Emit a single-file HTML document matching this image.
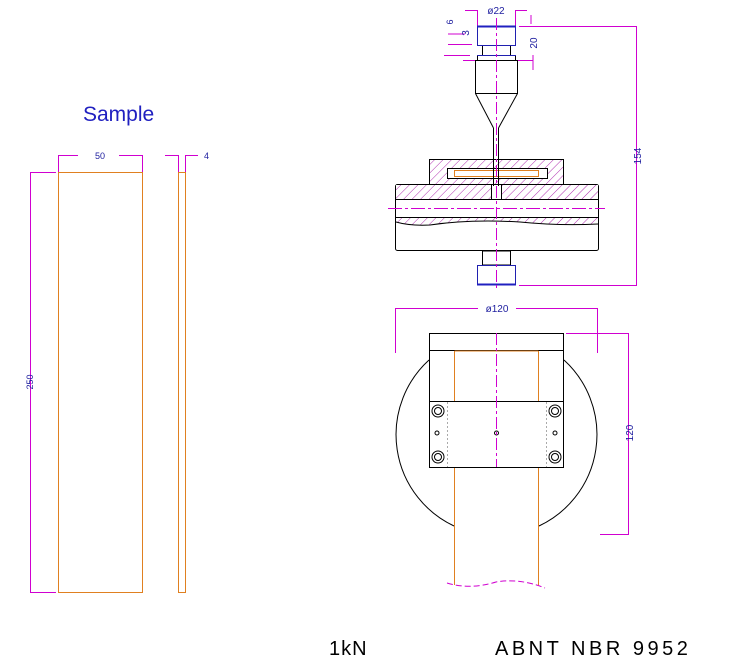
<!DOCTYPE html>
<html><head><style>html,body{margin:0;padding:0;background:#fff}svg{display:block}</style></head><body>
<svg width="741" height="660" viewBox="0 0 741 660" xmlns="http://www.w3.org/2000/svg" font-family="Liberation Sans, sans-serif">
<defs>
<pattern id="h" patternUnits="userSpaceOnUse" width="6" height="6" patternTransform="rotate(45)">
<rect width="6" height="6" fill="#fff"/><line x1="0" y1="0" x2="0" y2="6" stroke="#b030b0" stroke-width="1"/>
</pattern>
</defs>
<!-- Sample -->
<text x="83" y="121" font-size="21" fill="#2020c0">Sample</text>
<g fill="none" stroke="#e08020" stroke-width="1">
<rect x="58.5" y="172.5" width="84" height="420"/>
<rect x="178.5" y="172.5" width="7" height="420"/>
</g>
<g stroke="#d000d0" stroke-width="1" fill="none">
<path d="M58.5 172 V155.5 H78 M119 155.5 H142.5 V172"/>
<path d="M165 155.5 H178.5 V172 M185.5 172 V155.5 H198"/>
<path d="M56 172.5 H30.5 V592.5 H56"/>
</g>
<text x="100" y="159" font-size="9" fill="#2020a0" text-anchor="middle">50</text>
<text x="204" y="159" font-size="9" fill="#2020a0">4</text>
<text transform="translate(33,382) rotate(-90)" font-size="9" fill="#2020a0" text-anchor="middle">250</text>

<!-- Top view -->
<g stroke="#d000d0" stroke-width="1" fill="none">
<path d="M477.5 26 V10.5 H465 M515.5 26 V10.5 H527"/>
<path d="M519 26.5 H636.5 V285.5 H519"/>
<path d="M448 34 H465 M448 44.5 H472 M444 55.5 H470 M463 60.5 H477 M515 60.5 H533"/>
<path d="M531 15 V24 M533 55 V70"/>
</g>
<text x="496" y="14" font-size="10" fill="#2020a0" text-anchor="middle">ø22</text>
<text transform="translate(453,22) rotate(-90)" font-size="9" fill="#2020a0" text-anchor="middle">6</text>
<text transform="translate(469,33) rotate(-90)" font-size="10" fill="#2020a0" text-anchor="middle">3</text>
<text transform="translate(537,43) rotate(-90)" font-size="10" fill="#2020a0" text-anchor="middle">20</text>
<text transform="translate(641,156) rotate(-90)" font-size="10" fill="#2020a0" text-anchor="middle">154</text>

<!-- hatched parts -->
<rect x="429.5" y="159.5" width="134" height="25" fill="url(#h)" stroke="#000"/>
<rect x="447.5" y="168.5" width="100" height="10" fill="#fff" stroke="#000"/>
<rect x="454.5" y="170.5" width="84" height="6" fill="#fff" stroke="#e08020"/>
<rect x="395.5" y="184.5" width="203" height="66" rx="2" fill="#fff" stroke="#000"/>
<rect x="396" y="185" width="202" height="14" fill="url(#h)"/>
<path d="M396 217 H598 V224 Q560 226 520 222 Q470 219 430 225 Q410 226 396 222 Z" fill="url(#h)"/>
<g stroke="#000" fill="none">
<line x1="395" y1="199.5" x2="598" y2="199.5"/>
<line x1="395" y1="217.5" x2="598" y2="217.5"/>
<path d="M396 222 Q410 226 430 225 Q470 219 520 222 Q560 226 598 224"/>
<rect x="491.5" y="184.5" width="10" height="15" fill="#fff"/>
<line x1="493.5" y1="128" x2="493.5" y2="186"/>
<line x1="498.5" y1="128" x2="498.5" y2="186"/>
<rect x="475.5" y="60.5" width="42" height="33" fill="#fff"/>
<path d="M475.5 93.5 L493.5 128 M517.5 93.5 L498.5 128"/>
<rect x="482.5" y="45.5" width="28" height="10"/>
<rect x="477.5" y="55.5" width="38" height="5"/>
<rect x="482.5" y="251" width="28" height="14"/>
</g>
<rect x="477.5" y="26.5" width="38" height="19" fill="#fff" stroke="#2020b0" stroke-width="1"/>
<line x1="477" y1="26.5" x2="516" y2="26.5" stroke="#2020c0" stroke-width="2"/>
<rect x="477.5" y="265.5" width="38" height="19" fill="#fff" stroke="#2020b0"/>
<line x1="477" y1="284.5" x2="516" y2="284.5" stroke="#2020c0" stroke-width="2"/>
<line x1="477" y1="55.5" x2="516" y2="55.5" stroke="#2020b0"/>
<line x1="477" y1="265.5" x2="516" y2="265.5" stroke="#2020b0"/>
<line x1="496.5" y1="18" x2="496.5" y2="290" stroke="#d000d0" stroke-dasharray="12,3,3,3"/>
<line x1="388" y1="208.5" x2="605" y2="208.5" stroke="#d000d0" stroke-dasharray="14,3,3,3"/>

<!-- Bottom view -->
<path d="M429 360 A101 101 0 0 0 454 526 M564 360 A101 101 0 0 1 539 526" fill="none" stroke="#000"/>
<g stroke="#000" fill="#fff">
<rect x="429.5" y="333.5" width="134" height="134"/>
<line x1="429" y1="350.5" x2="563" y2="350.5"/>
<line x1="429" y1="401.5" x2="563" y2="401.5"/>
</g>
<g stroke="#e08020" fill="none">
<path d="M454.5 351 V401 M538.5 351 V401 M454.5 351 H538.5"/>
<path d="M454.5 468 V585 M538.5 468 V585"/>
</g>
<path d="M447 583 Q470 590 496 582 Q520 578 545 588" fill="none" stroke="#d000d0" stroke-dasharray="6,3"/>
<g stroke="#aaa" stroke-dasharray="2,2"><line x1="447.5" y1="402" x2="447.5" y2="467"/><line x1="546.5" y1="402" x2="546.5" y2="467"/></g>
<g stroke="#000" fill="none">
<circle cx="438" cy="411" r="6"/><circle cx="438" cy="411" r="3.5"/>
<circle cx="438" cy="457" r="6"/><circle cx="438" cy="457" r="3.5"/>
<circle cx="555" cy="411" r="6"/><circle cx="555" cy="411" r="3.5"/>
<circle cx="555" cy="457" r="6"/><circle cx="555" cy="457" r="3.5"/>
<circle cx="437" cy="433" r="2"/><circle cx="555" cy="433" r="2"/><circle cx="496.5" cy="433" r="2"/>
</g>
<line x1="496.5" y1="333" x2="496.5" y2="467" stroke="#d000d0" stroke-dasharray="12,3,3,3"/>
<g stroke="#d000d0" fill="none">
<path d="M395.5 353 V308.5 H478 M516 308.5 H597.5 V353"/>
<path d="M566 333.5 H628.5 V534.5 H600"/>
</g>
<text x="497" y="312" font-size="10" fill="#2020a0" text-anchor="middle">ø120</text>
<text transform="translate(633,433) rotate(-90)" font-size="10" fill="#2020a0" text-anchor="middle">120</text>

<text x="329" y="655" font-size="20" fill="#000" letter-spacing="1">1kN</text>
<text x="495" y="655" font-size="20" fill="#000" letter-spacing="3.5">ABNT NBR 9952</text>
</svg>
</body></html>
